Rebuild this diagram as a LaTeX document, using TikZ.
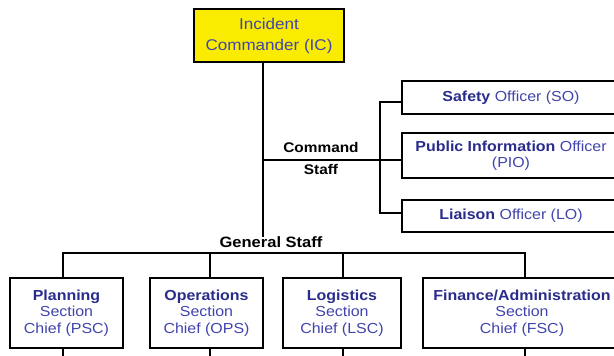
\documentclass[tikz,border=0pt]{standalone}
\usepackage{fontspec}
\setmainfont[FakeStretch=1.1]{Liberation Sans}
\definecolor{bb}{RGB}{42,44,140}
\definecolor{rb}{RGB}{64,68,172}
\definecolor{icy}{RGB}{250,236,0}
\newcommand{\bt}[1]{\textbf{\color{bb}#1}}
\begin{document}
\begin{tikzpicture}[x=1pt,y=-1pt,
  box/.style={draw=black, line width=2pt, fill=white, align=center, inner sep=0pt,
    font=\fontsize{14.5}{16.5}\selectfont, text=rb},
  wire/.style={line width=2.2pt, line cap=rect},
  lbl/.style={font=\fontsize{14}{15}\selectfont\bfseries, text=black, inner sep=0pt}]
\useasboundingbox (0,0) rectangle (614,356);
\clip (0,0) rectangle (614,356);
% top
\node[box, fill=icy, minimum width=150, minimum height=53, font=\fontsize{15.5}{21}\selectfont] (ic) at (269,35.5) {Incident\\Commander (IC)};
% command staff
\node[box, minimum width=218, minimum height=33, anchor=west] (so) at (401,97.5) {\bt{Safety} Officer (SO)};
\node[box, minimum width=218, minimum height=45, anchor=west] (pio) at (401,155.5) {\bt{Public Information} Officer\\(PIO)};
\node[box, minimum width=218, minimum height=32, anchor=west] (lo) at (401,216) {\bt{Liaison} Officer (LO)};
\node[lbl] (cmd) at (321,147) {Command};
\node[lbl] (stf) at (321,169) {Staff};
\node[lbl, font=\fontsize{15}{16}\selectfont\bfseries] (gen) at (271,242) {General Staff};
% general staff
\node[box, minimum width=113, minimum height=70] (psc) at (66.5,313) {\bt{Planning}\\Section\\Chief (PSC)};
\node[box, minimum width=113, minimum height=70] (ops) at (206.5,313) {\bt{Operations}\\Section\\Chief (OPS)};
\node[box, minimum width=118, minimum height=70] (lsc) at (342,313) {\bt{Logistics}\\Section\\Chief (LSC)};
\node[box, minimum width=198, minimum height=70, anchor=west] (fsc) at (422,313) {\bt{Finance/Administration}\\Section\\Chief (FSC)};
% coordinates
\coordinate (cj) at (263,160);
\coordinate (cb) at (380,160);
\coordinate (cbt) at (380,102);
\coordinate (cbb) at (380,213);
\coordinate (gb) at (263,253);
\coordinate (gl) at (63,253);
\coordinate (go) at (210,253);
\coordinate (glg) at (343,253);
\coordinate (gf) at (525,253);
\coordinate (bl) at (63,360);
\coordinate (bo) at (210,360);
\coordinate (blg) at (343,360);
\coordinate (bf) at (525,360);
% wires
\draw[wire] (ic.south -| cj) -- (gen.north -| cj);
\draw[wire] (cj) -- (pio.west |- cj);
\draw[wire] (so.west |- cbt) -- (cbt) -- (cbb) -- (lo.west |- cbb);
\draw[wire] (gl |- psc.north) -- (gl) -- (gf) -- (gf |- fsc.north);
\draw[wire] (go) -- (go |- ops.north);
\draw[wire] (glg) -- (glg |- lsc.north);
\draw[wire] (gl |- psc.south) -- (bl);
\draw[wire] (go |- ops.south) -- (bo);
\draw[wire] (glg |- lsc.south) -- (blg);
\draw[wire] (gf |- fsc.south) -- (bf);
\end{tikzpicture}
\end{document}
